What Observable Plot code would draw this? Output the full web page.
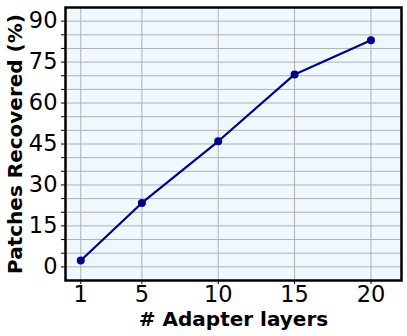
<!DOCTYPE html>
<html>
<head>
<meta charset="utf-8">
<script src="https://cdn.jsdelivr.net/npm/d3@7"></script>
<script src="https://cdn.jsdelivr.net/npm/@observablehq/plot@0.6"></script>
<style>
  html, body { margin: 0; padding: 0; background: white; }
</style>
</head>
<body>
<div id="chart"></div>
<script>
const layers = [1, 5, 10, 15, 20];
const recovered = [2.3, 23.4, 46, 70.5, 83];
const xTicks = [1, 5, 10, 15, 20];
const yMinorTicks = [0, 5, 10, 15, 20, 25, 30, 35, 40, 45, 50, 55, 60, 65, 70, 75, 80, 85, 90];
const yTickLabels = [0, 15, 30, 45, 60, 75, 90];
const xLabel = "# Adapter layers";
const yLabel = "Patches Recovered (%)";

const data = layers.map((l, i) => ({layers: l, recovered: recovered[i]}));

const chart = Plot.plot({
  width: 407,
  height: 336,
  marginLeft: 65,
  marginRight: 6,
  marginTop: 7,
  marginBottom: 56,
  style: {fontFamily: "DejaVu Sans", fontSize: "20px", background: "white", color: "black"},
  x: {domain: [0, 22]},
  y: {domain: [-5, 95]},
  marks: [
    Plot.frame({fill: "aliceblue", stroke: null}),
    Plot.gridX(xTicks, {stroke: "#b0b0b0", strokeOpacity: 1, strokeWidth: 1}),
    Plot.gridY(yMinorTicks, {stroke: "#b0b0b0", strokeOpacity: 1, strokeWidth: 1}),
    Plot.axisX({ticks: xTicks, tickSize: 4, tickPadding: 2, label: null, fontSize: 22.5}),
    Plot.axisY({ticks: yMinorTicks, tickSize: 4, tickPadding: 4, label: null, fontSize: 22.5,
      tickFormat: d => (yTickLabels.includes(d) ? String(d) : "")}),
    Plot.line(data, {x: "layers", y: "recovered", stroke: "darkblue", strokeWidth: 2.2}),
    Plot.dot(data, {x: "layers", y: "recovered", r: 4, fill: "darkblue", stroke: null}),
    Plot.frame({stroke: "black", strokeWidth: 2.5}),
    Plot.text([xLabel], {frameAnchor: "bottom", dy: 45, fontWeight: "bold", fontSize: 20, text: d => d}),
    Plot.text([yLabel], {frameAnchor: "left", textAnchor: "middle", dx: -50, rotate: -90, fontWeight: "bold", fontSize: 20, text: d => d})
  ]
});
document.getElementById("chart").appendChild(chart);
</script>
</body>
</html>
